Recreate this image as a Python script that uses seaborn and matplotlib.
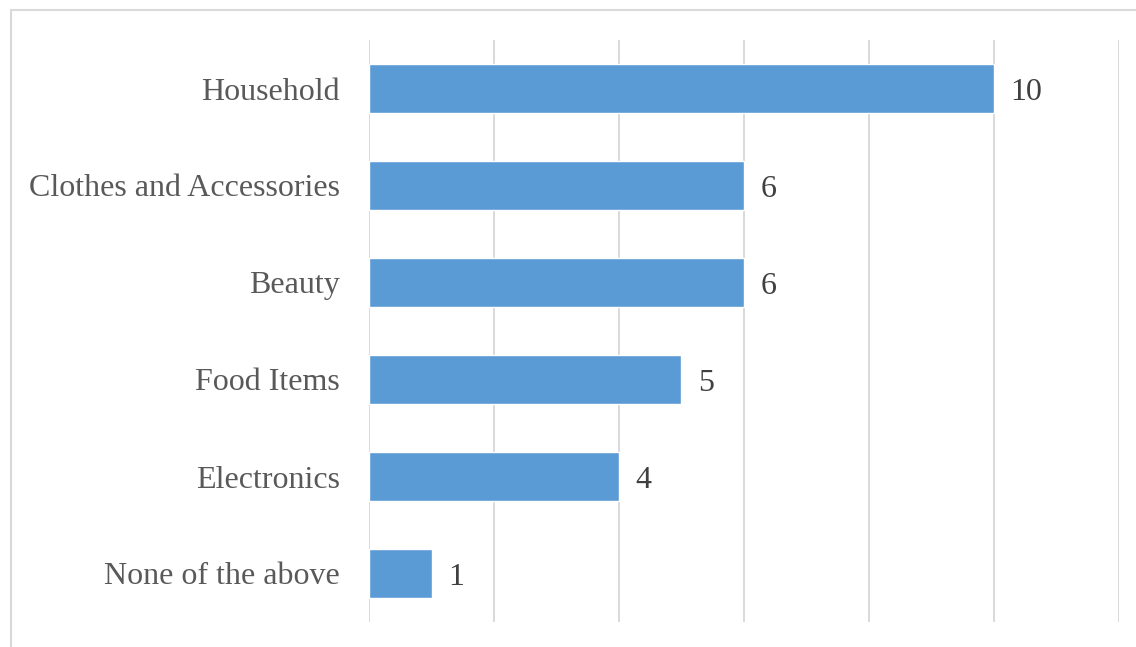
import matplotlib
matplotlib.use("Agg")
import matplotlib.pyplot as plt
import seaborn as sns
import pandas as pd
from matplotlib.patches import Rectangle

categories = ["Household", "Clothes and Accessories", "Beauty", "Food Items",
              "Electronics", "None of the above"]
counts = [10, 6, 6, 5, 4, 1]
x_ticks = [0, 2, 4, 6, 8, 10, 12]

df = pd.DataFrame({"category": categories, "count": counts})

sns.set_style("white")
plt.rcParams["font.family"] = ["Liberation Serif", "DejaVu Serif"]

fig = plt.figure(figsize=(11.36, 6.47), dpi=100)
ax = fig.add_axes([369 / 1136, 1 - 622 / 647, 750 / 1136, 582 / 647])

sns.barplot(data=df, x="count", y="category", orient="h", color="#5B9BD5",
            saturation=1, width=0.5, ax=ax, zorder=3)

ax.set_xlim(0, 12)
ax.set_xticks(x_ticks)
ax.set_xticklabels([])
ax.tick_params(axis="x", length=0)
ax.tick_params(axis="y", length=0, pad=21, labelsize=23, labelcolor="#595959")
ax.grid(axis="x", color="#D9D9D9", linewidth=1.4, zorder=0)
ax.grid(axis="y", visible=False)
for s in ax.spines.values():
    s.set_visible(False)
ax.set_xlabel("")
ax.set_ylabel("")

for i, v in enumerate(counts):
    ax.annotate(str(v), xy=(v, i), xytext=(12, -3), textcoords="offset points",
                va="center", ha="left", fontsize=23, color="#404040")

# chart frame
fig.patches.append(Rectangle((11 / 1136, -0.05), 1.1, 1 - 10 / 647 + 0.05,
                             transform=fig.transFigure, fill=False,
                             edgecolor="#D9D9D9", linewidth=1.5))

fig.savefig("out.png", dpi=100, facecolor="white")
